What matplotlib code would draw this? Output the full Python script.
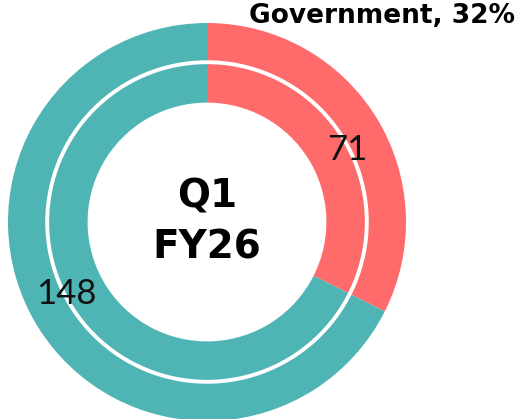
import numpy as np
import matplotlib
matplotlib.use("Agg")
import matplotlib.pyplot as plt
from matplotlib.patches import Circle

categories = ["Government", "Other"]
values = [71, 148]
colors = ["#FF6B6B", "#4FB5B4"]
center_lines = ["Q1", "FY26"]

W, H = 521, 419
fig = plt.figure(figsize=(W / 100, H / 100), dpi=100)
cx, cy, R = 207, 197, 199  # cy measured from bottom in px
ax = fig.add_axes([(cx - R) / W, (cy - R) / H, 2 * R / W, 2 * R / H])
ax.set_xlim(-1, 1)
ax.set_ylim(-1, 1)
ax.set_aspect("equal")
ax.axis("off")

# outer ring
ax.pie(values, radius=1.0, colors=colors, startangle=90, counterclock=False,
       wedgeprops=dict(width=0.2, linewidth=0))
# inner ring
ax.pie(values, radius=0.8, colors=colors, startangle=90, counterclock=False,
       wedgeprops=dict(width=0.2, linewidth=0))
ax.set_xlim(-1, 1)
ax.set_ylim(-1, 1)
ax.add_patch(Circle((0, 0), 0.803, fill=False, edgecolor="white", linewidth=2.8, zorder=5))

# value labels
total = sum(values)
start = 90.0
for v in values:
    span = 360.0 * v / total
    mid = start - span / 2 - 4.5
    start -= span
    a = np.deg2rad(mid)
    ax.text(0.795 * np.cos(a), 0.795 * np.sin(a), str(v), ha="center", va="center",
            fontsize=25, family="Lato", fontweight="normal", color="#111111", zorder=6)

ax.text(0, 0, "\n".join(center_lines), ha="center", va="center", fontsize=28,
        fontweight="bold", family="DejaVu Sans", linespacing=1.45, color="black", zorder=6)

pct = round(100 * values[0] / total)
fig.text(515 / W, 1 - 16 / H, f"{categories[0]}, {pct}%", ha="right", va="center",
         fontsize=19, fontweight="bold", family="DejaVu Sans", color="black")

fig.savefig("out.png", dpi=100)
